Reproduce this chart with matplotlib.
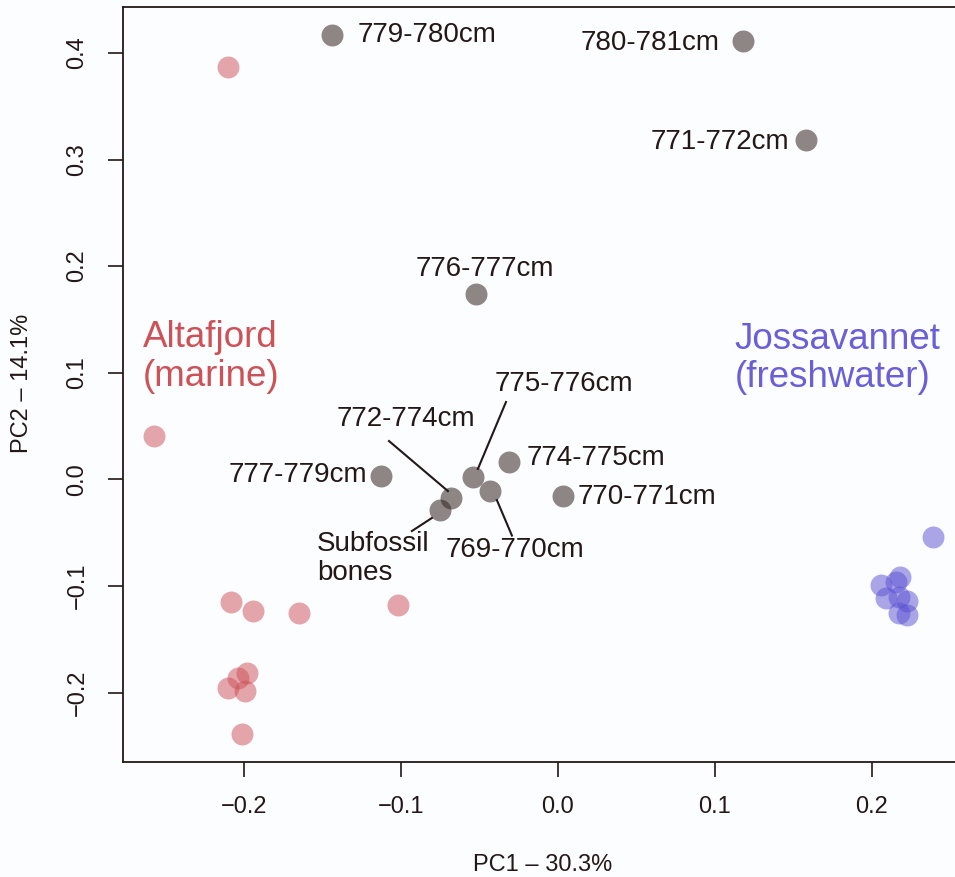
import matplotlib
matplotlib.use("Agg")
import matplotlib.pyplot as plt

plt.rcParams['font.family'] = ['Liberation Sans', 'DejaVu Sans']

# ---- data ----
core_labels = ["779-780cm", "780-781cm", "771-772cm", "776-777cm", "777-779cm",
               "775-776cm", "774-775cm", "769-770cm", "772-774cm", "Subfossil\nbones",
               "770-771cm"]
core_pc1 = [-0.144, 0.118, 0.158, -0.052, -0.113, -0.054, -0.031, -0.043, -0.068, -0.075, 0.003]
core_pc2 = [0.417, 0.411, 0.318, 0.174, 0.003, 0.002, 0.016, -0.011, -0.018, -0.029, -0.016]

marine_pc1 = [-0.210, -0.257, -0.208, -0.194, -0.165, -0.102, -0.210, -0.204, -0.198, -0.199, -0.201]
marine_pc2 = [0.387, 0.041, -0.115, -0.124, -0.125, -0.118, -0.196, -0.186, -0.182, -0.199, -0.239]

fresh_pc1 = [0.239, 0.206, 0.218, 0.215, 0.209, 0.217, 0.222, 0.217, 0.222]
fresh_pc2 = [-0.054, -0.099, -0.092, -0.096, -0.111, -0.110, -0.114, -0.125, -0.127]

# label anchor (x, y, ha) and leader lines
label_pos = [(-0.1274, 0.417, 'left'), (0.1032, 0.4097, 'right'), (0.147, 0.3165, 'right'),
             (-0.0465, 0.197, 'center'), (-0.1217, 0.004, 'right'), (0.0041, 0.0894, 'center'),
             (-0.0197, 0.020, 'left'), (-0.0274, -0.0664, 'center'), (-0.0971, 0.0566, 'center'),
             (-0.1535, -0.0743, 'left'), (0.0127, -0.0166, 'left')]
leader_lines = [((-0.0331, 0.0725), (-0.051, 0.0097)),
                ((-0.1076, 0.0359), (-0.0701, -0.011)),
                ((-0.0389, -0.0195), (-0.0293, -0.0528)),
                ((-0.0803, -0.0363), (-0.093, -0.0485))]

txt = '#231815'
bg = '#fcfdff'

fig = plt.figure(figsize=(9.55, 8.77), dpi=100, facecolor=bg)
ax = fig.add_axes([123/955, 1-762/877, 837/955, 755/877])
ax.set_facecolor(bg)
ax.set_xlim(-0.277, (960-558)/1570)
ax.set_ylim((479.3-762)/1066, (479.3-7)/1066)

s = 250
ax.scatter(marine_pc1, marine_pc2, s=s, color=(0.80, 0.31, 0.33), alpha=0.5, linewidths=0, zorder=3)
ax.scatter(fresh_pc1, fresh_pc2, s=s, color=(0.35, 0.31, 0.82), alpha=0.5, linewidths=0, zorder=3)
ax.scatter(core_pc1, core_pc2, s=s, color=(0.20, 0.14, 0.12), alpha=0.55, linewidths=0, zorder=4)

for (p0, p1) in leader_lines:
    ax.plot([p0[0], p1[0]], [p0[1], p1[1]], color=txt, lw=1.5, zorder=5)

for lab, (lx, ly, ha) in zip(core_labels, label_pos):
    ax.text(lx, ly, lab, ha=ha, va='center', fontsize=20, color=txt,
            linespacing=1.12, zorder=6)

ax.text(-0.2643, 0.1147, "Altafjord\n(marine)", ha='left', va='center', fontsize=26.5,
        color='#cd5257', linespacing=1.12)
ax.text(0.1127, 0.1133, "Jossavannet\n(freshwater)", ha='left', va='center', fontsize=26.5,
        color='#6a5fd8', linespacing=1.12)

ax.set_xticks([-0.2, -0.1, 0.0, 0.1, 0.2])
ax.set_xticklabels(['\u22120.2', '\u22120.1', '0.0', '0.1', '0.2'])
ax.set_yticks([-0.2, -0.1, 0.0, 0.1, 0.2, 0.3, 0.4])
ax.set_yticklabels(['\u22120.2', '\u22120.1', '0.0', '0.1', '0.2', '0.3', '0.4'],
                   rotation=90, va='center')
ax.tick_params(axis='both', length=10.8, width=1.2, color=txt, labelcolor=txt,
               labelsize=17, pad=14)
for sp in ['left', 'bottom', 'top']:
    ax.spines[sp].set_color(txt)
    ax.spines[sp].set_linewidth(1.3)
ax.spines['right'].set_visible(False)

fig.text(543/955, 1-865/877, "PC1 \u2013 30.3%", ha='center', va='center', fontsize=17, color=txt)
fig.text(22/955, 1-383/877, "PC2 \u2013 14.1%", ha='center', va='center', fontsize=17,
         color=txt, rotation=90)

fig.savefig("out.png", dpi=100, facecolor=bg)
